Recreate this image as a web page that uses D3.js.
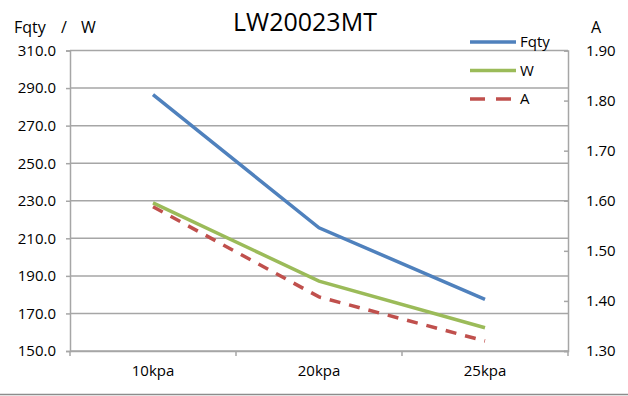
<!DOCTYPE html>
<html>
<head>
<meta charset="utf-8">
<script src="https://cdn.jsdelivr.net/npm/d3@7"></script>
<style>
  body { margin: 0; background: #fff; }
  text { font-family: "Open Sans", sans-serif; fill: #000; }
  .grid line { stroke: #a6a6a6; stroke-width: 1.5; }
  .axis path, .axis line { stroke: #a6a6a6; stroke-width: 1.5; }
</style>
</head>
<body>
<div id="chart"></div>
<script>
var categories = ["10kpa", "20kpa", "25kpa"];
var fqty = [286.5, 215.6, 177.5];
var watts = [228.9, 187.2, 162.4];
var amps = [1.588, 1.408, 1.320];
var leftTicks = [150, 170, 190, 210, 230, 250, 270, 290, 310];
var rightTicks = [1.30, 1.40, 1.50, 1.60, 1.70, 1.80, 1.90];

var series = [
  { name: "Fqty", values: fqty, axis: "left", color: "#4f81bd", dash: null },
  { name: "W", values: watts, axis: "left", color: "#9bbb59", dash: null },
  { name: "A", values: amps, axis: "right", color: "#c0504d", dash: "11,9" }
];

var width = 628, height = 396;
var plotLeft = 70, plotRight = 568, plotTop = 50.5, plotBottom = 351;

var svg = d3.select("#chart").append("svg")
  .attr("width", width)
  .attr("height", height);

var x = d3.scaleBand().domain(categories).range([plotLeft, plotRight]);
var yL = d3.scaleLinear().domain([150, 310]).range([plotBottom, plotTop]);
var yR = d3.scaleLinear().domain([1.30, 1.90]).range([plotBottom, plotTop]);

// gridlines
svg.append("g").attr("class", "grid")
  .selectAll("line").data(leftTicks).enter().append("line")
  .attr("x1", plotLeft).attr("x2", plotRight)
  .attr("y1", d => yL(d)).attr("y2", d => yL(d));

// left axis
let gl = svg.append("g").attr("class", "axis")
  .attr("transform", "translate(" + plotLeft + ",0)")
  .call(d3.axisLeft(yL).tickValues(leftTicks).tickFormat(d3.format(".1f")).tickSize(4).tickPadding(10));
gl.selectAll("text").style("font-size", "15px");

// right axis (ticks point inward)
let gr = svg.append("g").attr("class", "axis")
  .attr("transform", "translate(" + plotRight + ",0)")
  .call(d3.axisRight(yR).tickValues(rightTicks).tickFormat(d3.format(".2f")).tickSize(-4).tickPadding(18));
gr.selectAll("text").style("font-size", "15px");

// bottom axis with ticks between categories
let gb = svg.append("g").attr("class", "axis")
  .attr("transform", "translate(0," + plotBottom + ")")
  .call(d3.axisBottom(x).tickSize(0).tickPadding(14));
gb.selectAll("text").style("font-size", "15px");
gb.selectAll(".sep").data(d3.range(categories.length + 1)).enter().append("line")
  .attr("class", "sep")
  .attr("x1", i => plotLeft + i * x.step()).attr("x2", i => plotLeft + i * x.step())
  .attr("y1", 0).attr("y2", 5);

// lines
series.forEach(s => {
  let yS = s.axis === "left" ? yL : yR;
  let line = d3.line()
    .x((d, i) => x(categories[i]) + x.bandwidth() / 2)
    .y(d => yS(d));
  svg.append("path")
    .datum(s.values)
    .attr("d", line)
    .attr("fill", "none")
    .attr("stroke", s.color)
    .attr("stroke-width", 3.5)
    .attr("stroke-dasharray", s.dash);
});

// legend
let legend = svg.append("g").selectAll("g").data(series).enter().append("g")
  .attr("transform", (d, i) => "translate(470," + (42 + i * 28.5) + ")");
legend.append("line")
  .attr("x1", 0).attr("x2", d => d.dash ? 41 : 46)
  .attr("stroke", d => d.color)
  .attr("stroke-width", 3.5)
  .attr("stroke-dasharray", d => d.dash ? "15,11" : null);
legend.append("text")
  .attr("x", 50).attr("y", 5)
  .style("font-size", "15px")
  .text(d => d.name);

// titles
svg.append("text")
  .attr("x", 305).attr("y", 31)
  .attr("text-anchor", "middle")
  .style("font-size", "25px")
  .text("LW20023MT");
let leftTitle = svg.append("text")
  .attr("y", 33)
  .style("font-size", "16px");
leftTitle.append("tspan").attr("x", 14).text("Fqty");
leftTitle.append("tspan").attr("x", 61).text("/");
leftTitle.append("tspan").attr("x", 81).text("W");
svg.append("text")
  .attr("x", 596).attr("y", 33)
  .attr("text-anchor", "middle")
  .style("font-size", "16px")
  .text("A");

// chart bottom border
svg.append("line")
  .attr("x1", 0).attr("x2", width)
  .attr("y1", 394.5).attr("y2", 394.5)
  .attr("stroke", "#8c8c8c").attr("stroke-width", 1.5);
</script>
</body>
</html>
